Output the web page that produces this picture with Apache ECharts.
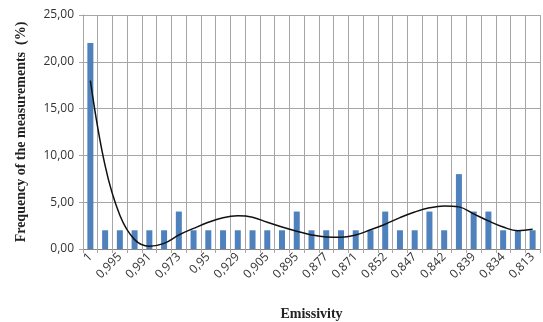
<!DOCTYPE html>
<html>
<head>
<meta charset="utf-8">
<script src="https://cdn.jsdelivr.net/npm/echarts@6/dist/echarts.min.js"></script>
<style>html,body{margin:0;padding:0;background:#fff}#c{width:543px;height:322px}</style>
</head>
<body>
<div id="c"></div>
<script>
const categories = ['1','0,998','0,995','0,993','0,991','0,985','0,973','0,962','0,95','0,94','0,929','0,918','0,905','0,9','0,895','0,89','0,877','0,874','0,871','0,86','0,852','0,85','0,847','0,845','0,842','0,84','0,839','0,836','0,834','0,82','0,813'];
const frequency = [22,2,2,2,2,2,4,2,2,2,2,2,2,2,4,2,2,2,2,2,4,2,2,4,2,8,4,4,2,2,2];
const trend = [18.0,8.9,3.6,1.0,0.3,0.6,1.5,2.2,2.85,3.35,3.55,3.4,2.85,2.35,1.9,1.5,1.28,1.25,1.5,2.05,2.65,3.35,3.95,4.4,4.6,4.5,3.75,3.0,2.35,1.95,2.1];
const yTicks = {min:0, max:25, interval:5};

const chart = echarts.init(document.getElementById('c'), null, {renderer:'canvas'});
const gridColor = '#a6a6a6';
chart.setOption({
  animation:false,
  grid:{left:83, right:3, top:15, bottom:73, containLabel:false, outerBoundsMode:'none'},
  xAxis:{
    type:'category', data:categories, boundaryGap:true,
    name:'Emissivity', nameLocation:'middle', nameGap:58,
    nameTextStyle:{fontFamily:'Liberation Serif', fontWeight:'bold', fontSize:14, color:'#222'},
    axisLine:{lineStyle:{color:'#868686', width:1}},
    axisTick:{show:true, interval:0, length:4, lineStyle:{color:gridColor}},
    axisLabel:{interval:1, rotate:45, fontFamily:'Open Sans', fontSize:12, color:'#333', margin:6},
    splitLine:{show:true, interval:0, lineStyle:{color:gridColor, width:1}}
  },
  yAxis:{
    type:'value', min:yTicks.min, max:yTicks.max, interval:yTicks.interval,
    name:'Frequency of the measurements  (%)', nameLocation:'middle', nameGap:55,
    nameTextStyle:{fontFamily:'Liberation Serif', fontWeight:'bold', fontSize:14, color:'#222'},
    axisLine:{show:true, lineStyle:{color:gridColor}},
    axisTick:{show:true, length:4, lineStyle:{color:gridColor}},
    axisLabel:{fontFamily:'Open Sans', fontSize:12, color:'#333', margin:9,
      formatter:v=>v.toFixed(2).replace('.',',')},
    splitLine:{show:true, lineStyle:{color:gridColor, width:1}}
  },
  series:[
    {type:'bar', data:frequency, barWidth:6, itemStyle:{color:'#4f81bd'}},
    {type:'line', data:trend, smooth:0.4, showSymbol:false, symbol:'none',
     lineStyle:{color:'#111', width:1.5}, z:5}
  ]
});
</script>
</body>
</html>
